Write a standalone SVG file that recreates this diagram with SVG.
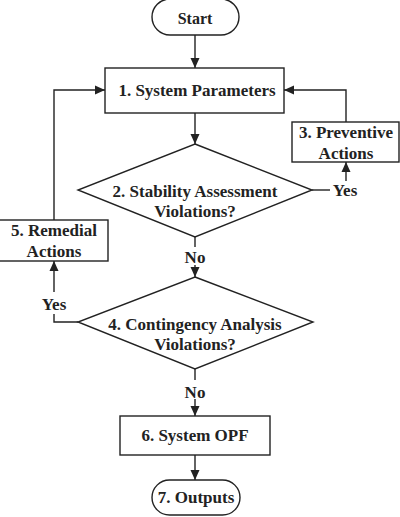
<svg xmlns="http://www.w3.org/2000/svg" width="400" height="517" viewBox="0 0 400 517">
<style>
.s{fill:#fff;stroke:#222;stroke-width:1.4}
.c{fill:none;stroke:#222;stroke-width:1.4}
text{font-family:"Liberation Serif","Times New Roman",serif;font-weight:bold;font-size:17px;fill:#222;text-anchor:middle}
</style>
<defs>
<marker id="a" viewBox="0 0 10 10" refX="10" refY="5" markerWidth="10" markerHeight="10" markerUnits="userSpaceOnUse" orient="auto">
<path d="M0,0.5 L10,5 L0,9.5 Z" fill="#222"/>
</marker>
</defs>
<rect width="400" height="517" fill="#fff"/>
<g id="connectors">
<line class="c" x1="195" y1="35" x2="195" y2="68" marker-end="url(#a)"/>
<line class="c" x1="195" y1="113" x2="195" y2="144" marker-end="url(#a)"/>
<polyline class="c" points="312,190 330,190"/>
<line class="c" x1="346" y1="181" x2="346" y2="162" marker-end="url(#a)"/>
<polyline class="c" points="346,122 346,90 284,90" marker-end="url(#a)"/>
<line class="c" x1="195" y1="237" x2="195" y2="247"/>
<line class="c" x1="195" y1="265" x2="195" y2="277" marker-end="url(#a)"/>
<polyline class="c" points="78,322 54,322 54,314"/>
<line class="c" x1="54" y1="292" x2="54" y2="261" marker-end="url(#a)"/>
<polyline class="c" points="54,220 54,90 105,90" marker-end="url(#a)"/>
<line class="c" x1="195" y1="369" x2="195" y2="380"/>
<line class="c" x1="195" y1="399" x2="195" y2="416" marker-end="url(#a)"/>
<line class="c" x1="195" y1="455" x2="195" y2="480" marker-end="url(#a)"/>
<text x="345" y="196">Yes</text>
<text x="195" y="263">No</text>
<text x="54" y="310">Yes</text>
<text x="195" y="398">No</text>
</g>
<g id="start">
<rect class="s" x="152" y="-1" width="87" height="36" rx="18"/>
<text x="195" y="24" style="font-size:16px">Start</text>
</g>
<g id="n1">
<rect class="s" x="105" y="68" width="179" height="45"/>
<text x="197" y="96">1. System Parameters</text>
</g>
<g id="n2">
<polygon class="s" points="195,144 312,190 195,237 78,190"/>
<text x="195" y="197">2. Stability Assessment</text>
<text x="195" y="217">Violations?</text>
</g>
<g id="n3">
<rect class="s" x="292" y="122" width="107" height="40"/>
<text x="346" y="138">3. Preventive</text>
<text x="346" y="159">Actions</text>
</g>
<g id="n5">
<rect class="s" x="-1" y="220" width="109" height="41"/>
<text x="54" y="236">5. Remedial</text>
<text x="54" y="257">Actions</text>
</g>
<g id="n4">
<polygon class="s" points="195,277 313,322 195,369 78,322"/>
<text x="195" y="330">4. Contingency Analysis</text>
<text x="195" y="350">Violations?</text>
</g>
<g id="n6">
<rect class="s" x="120" y="416" width="150" height="39"/>
<text x="195" y="441">6. System OPF</text>
</g>
<g id="n7">
<rect class="s" x="152" y="480" width="88" height="35" rx="17.5"/>
<text x="196" y="503">7. Outputs</text>
</g>
</svg>
